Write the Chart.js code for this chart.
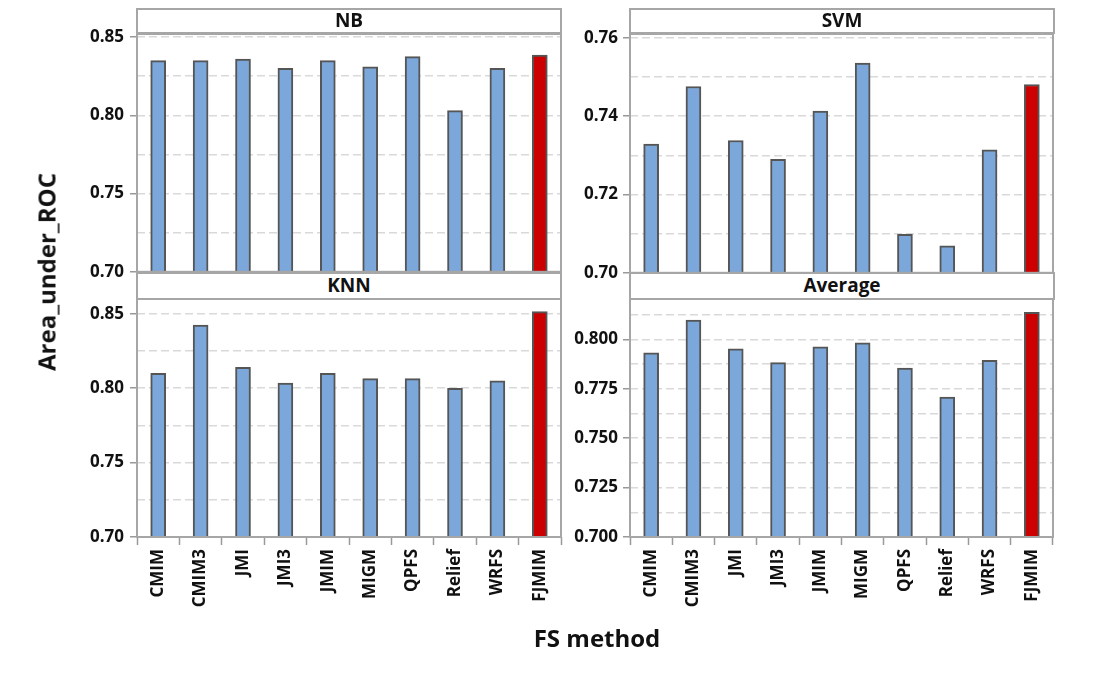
<!DOCTYPE html>
<html>
<head>
    <title>Area under ROC by FS method</title>
    <script src="https://cdn.jsdelivr.net/npm/chart.js@4.4.0/dist/chart.umd.min.js"></script>
    <style>
        body {
            margin: 0;
            background: #fff;
            font-family: "Open Sans", Arial, sans-serif;
        }
        .page {
            position: relative;
            width: 1100px;
            height: 682px;
            overflow: hidden;
        }
        canvas {
            position: absolute;
        }
        .strip {
            position: absolute;
            box-sizing: border-box;
            height: 26px;
            border: 2px solid #a6a6a6;
            background: #fff;
            text-align: center;
            font-size: 19px;
            font-weight: 700;
            line-height: 21px;
            color: #111;
            z-index: 2;
        }
        .ytitle {
            position: absolute;
            left: 46px;
            top: 272px;
            transform: translate(-50%, -50%) rotate(-90deg);
            font-size: 24px;
            font-weight: 700;
            white-space: nowrap;
            color: #111;
        }
        .xtitle {
            position: absolute;
            left: 597px;
            top: 637px;
            transform: translate(-50%, -50%);
            font-size: 24px;
            font-weight: 700;
            white-space: nowrap;
            color: #111;
        }
    </style>
</head>
<body>
<div class="page">
    <canvas id="nb" width="570" height="288" style="left:0;top:0"></canvas>
    <canvas id="svm" width="500" height="288" style="left:560px;top:0"></canvas>
    <canvas id="knn" width="570" height="410" style="left:0;top:272px"></canvas>
    <canvas id="avg" width="500" height="410" style="left:560px;top:272px"></canvas>

    <div class="strip" style="left:136px;top:8px;width:426px">NB</div>
    <div class="strip" style="left:629px;top:8px;width:426px">SVM</div>
    <div class="strip" style="left:136px;top:272px;width:426px;height:28px;line-height:23px">KNN</div>
    <div class="strip" style="left:629px;top:272px;width:426px;height:28px;line-height:23px">Average</div>

    <div class="ytitle">Area_under_ROC</div>
    <div class="xtitle">FS method</div>
</div>

<script>
    const methods = ['CMIM', 'CMIM3', 'JMI', 'JMI3', 'JMIM', 'MIGM', 'QPFS', 'Relief', 'WRFS', 'FJMIM'];

    const nbValues  = [0.835, 0.835, 0.836, 0.830, 0.835, 0.831, 0.8375, 0.803, 0.830, 0.8385];
    const svmValues = [0.7329, 0.7476, 0.7338, 0.7290, 0.7413, 0.7536, 0.7098, 0.7069, 0.7314, 0.7481];
    const knnValues = [0.810, 0.8425, 0.814, 0.8035, 0.810, 0.8065, 0.8065, 0.800, 0.805, 0.8515];
    const avgValues = [0.7932, 0.8098, 0.7953, 0.7883, 0.7963, 0.7983, 0.7855, 0.7709, 0.7895, 0.8137];

    const blue = '#7ba7da';
    const red = '#cc0000';
    const barColors = methods.map(m => m === 'FJMIM' ? red : blue);

    Chart.defaults.font.family = '"Open Sans", Arial, sans-serif';
    Chart.defaults.color = '#111';

    // frame around the plot area
    const frame = {
        id: 'frame',
        afterDraw(chart) {
            const a = chart.chartArea;
            const c = chart.ctx;
            c.save();
            c.strokeStyle = '#a6a6a6';
            c.lineWidth = 2;
            c.strokeRect(a.left, a.top, a.right - a.left, a.bottom - a.top);
            c.restore();
        }
    };

    function isMajor(v, major) {
        const r = v / major;
        return Math.abs(r - Math.round(r)) < 1e-6;
    }

    function makePanel(id, values, opts) {
        new Chart(document.getElementById(id), {
            type: 'bar',
            data: {
                labels: methods,
                datasets: [{
                    data: values,
                    backgroundColor: barColors,
                    borderColor: '#555',
                    borderWidth: 2,
                    barThickness: 15
                }]
            },
            plugins: [frame],
            options: {
                responsive: false,
                animation: false,
                events: [],
                layout: {
                    autoPadding: false,
                    padding: { top: opts.padTop, right: opts.padRight, bottom: 0, left: 0 }
                },
                plugins: {
                    legend: { display: false },
                    tooltip: { enabled: false }
                },
                scales: {
                    x: {
                        display: opts.showX,
                        afterFit: s => { s.height = opts.showX ? 145 : 0; },
                        grid: {
                            drawOnChartArea: false,
                            tickLength: 8,
                            tickColor: '#999',
                            tickWidth: 1.5
                        },
                        border: { display: false },
                        ticks: {
                            autoSkip: false,
                            minRotation: 90,
                            maxRotation: 90,
                            padding: 4,
                            font: { size: 17, weight: 'bold' }
                        }
                    },
                    y: {
                        min: 0.70,
                        max: opts.max,
                        afterFit: s => { s.width = opts.axisWidth; },
                        border: { display: false, dash: [8, 4] },
                        grid: {
                            color: ctx => ctx.tick && ctx.tick.value > 0.7001 ? '#d9d9d9' : 'transparent',
                            lineWidth: 1.5,
                            tickLength: 7,
                            tickWidth: 1.5,
                            tickColor: ctx => ctx.tick && isMajor(ctx.tick.value, opts.major) ? '#999' : 'transparent'
                        },
                        ticks: {
                            stepSize: opts.step,
                            includeBounds: false,
                            padding: opts.tickPad,
                            font: { size: 17, weight: 'bold' },
                            callback: v => isMajor(v, opts.major) ? v.toFixed(opts.decimals) : ''
                        }
                    }
                }
            }
        });
    }

    makePanel('nb', nbValues,   { max: 0.852,  step: 0.025,  major: 0.05,  decimals: 2, showX: false, padTop: 34, padRight: 9, axisWidth: 137, tickPad: 6 });
    makePanel('svm', svmValues, { max: 0.761,  step: 0.01,   major: 0.02,  decimals: 2, showX: false, padTop: 34, padRight: 7, axisWidth: 70,  tickPad: 5 });
    makePanel('knn', knnValues, { max: 0.860,  step: 0.025,  major: 0.05,  decimals: 2, showX: true,  padTop: 27, padRight: 9, axisWidth: 137, tickPad: 6 });
    makePanel('avg', avgValues, { max: 0.8205, step: 0.0125, major: 0.025, decimals: 3, showX: true,  padTop: 27, padRight: 7, axisWidth: 70,  tickPad: 5 });
</script>
</body>
</html>
